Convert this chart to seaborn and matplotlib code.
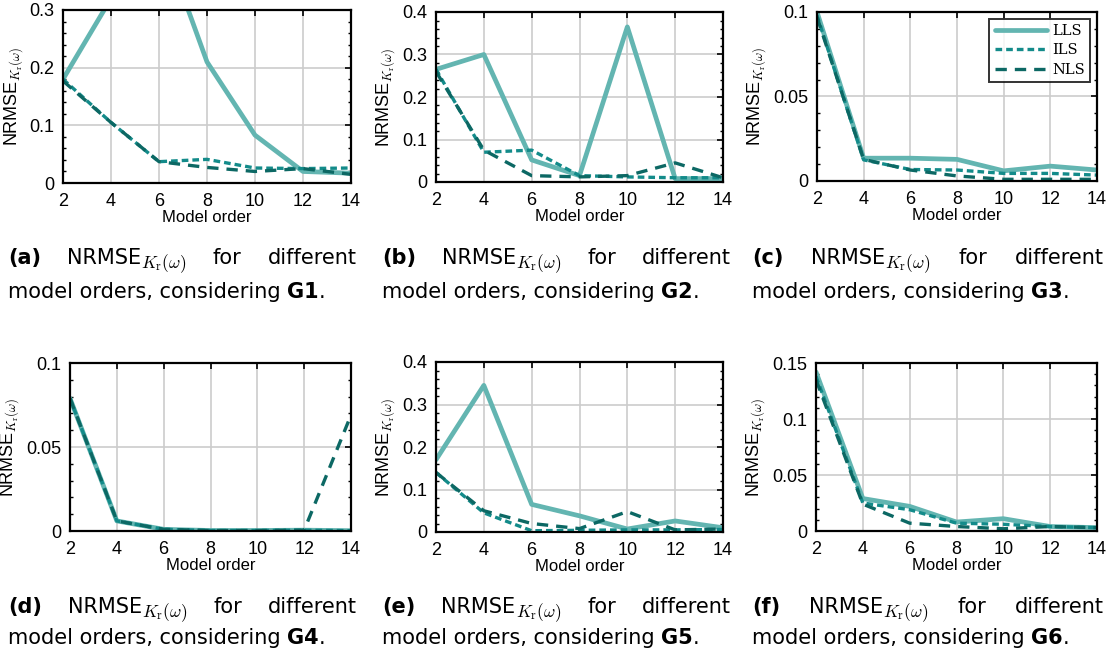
import numpy as np
import pandas as pd
import matplotlib
matplotlib.use("Agg")
import matplotlib.pyplot as plt
from matplotlib.ticker import AutoMinorLocator, MultipleLocator, FuncFormatter
import seaborn as sns

orders = [2, 4, 6, 8, 10, 12, 14]
methods = ["LLS", "ILS", "NLS"]

g1_lls = [0.18, 0.32, 0.44, 0.21, 0.083, 0.020, 0.017]
g1_ils = [0.18, 0.105, 0.037, 0.041, 0.026, 0.025, 0.026]
g1_nls = [0.177, 0.105, 0.037, 0.027, 0.020, 0.025, 0.015]

g2_lls = [0.265, 0.300, 0.052, 0.015, 0.365, 0.008, 0.008]
g2_ils = [0.265, 0.070, 0.075, 0.015, 0.012, 0.010, 0.010]
g2_nls = [0.260, 0.075, 0.015, 0.012, 0.015, 0.045, 0.010]

g3_lls = [0.100, 0.0135, 0.0135, 0.0128, 0.006, 0.0088, 0.0065]
g3_ils = [0.098, 0.0125, 0.0068, 0.0065, 0.0045, 0.0045, 0.0035]
g3_nls = [0.097, 0.0128, 0.0065, 0.003, 0.001, 0.001, 0.001]

g4_lls = [0.079, 0.006, 0.001, 0.0003, 0.0003, 0.0005, 0.0002]
g4_ils = [0.079, 0.006, 0.001, 0.0003, 0.0003, 0.0005, 0.0002]
g4_nls = [0.079, 0.006, 0.001, 0.0003, 0.0003, 0.0005, 0.069]

g5_lls = [0.170, 0.345, 0.065, 0.038, 0.007, 0.026, 0.010]
g5_ils = [0.140, 0.045, 0.003, 0.004, 0.005, 0.005, 0.006]
g5_nls = [0.140, 0.050, 0.020, 0.008, 0.048, 0.005, 0.007]

g6_lls = [0.142, 0.029, 0.022, 0.008, 0.011, 0.004, 0.003]
g6_ils = [0.138, 0.025, 0.019, 0.007, 0.006, 0.004, 0.003]
g6_nls = [0.135, 0.024, 0.007, 0.004, 0.002, 0.004, 0.003]

datasets = ["G1", "G2", "G3", "G4", "G5", "G6"]
series = {
    "G1": (g1_lls, g1_ils, g1_nls),
    "G2": (g2_lls, g2_ils, g2_nls),
    "G3": (g3_lls, g3_ils, g3_nls),
    "G4": (g4_lls, g4_ils, g4_nls),
    "G5": (g5_lls, g5_ils, g5_nls),
    "G6": (g6_lls, g6_ils, g6_nls),
}
ylims = [0.3, 0.4, 0.1, 0.1, 0.4, 0.15]
ysteps = [0.1, 0.1, 0.05, 0.05, 0.1, 0.05]
letters = ["a", "b", "c", "d", "e", "f"]

rows = []
for g in datasets:
    for m, vals in zip(methods, series[g]):
        for o, v in zip(orders, vals):
            rows.append({"dataset": g, "method": m, "order": o, "value": v})
df = pd.DataFrame(rows)

sns.set_theme(style="white")
plt.rcParams["font.family"] = ["Liberation Sans", "DejaVu Sans"]
plt.rcParams["mathtext.fontset"] = "cm"
plt.rcParams["text.color"] = "black"
plt.rcParams["axes.labelcolor"] = "black"

colors = {"LLS": "#63b5b1", "ILS": "#138b8a", "NLS": "#0c6864"}
widths = {"LLS": 3.4, "ILS": 2.4, "NLS": 2.4}
styles = {"LLS": "-", "ILS": (0, (2.0, 1.2)), "NLS": (0, (3.4, 2.4))}

W, H = 1117, 659
fig = plt.figure(figsize=(W / 100, H / 100), dpi=100)
renderer = fig.canvas.get_renderer()

boxes = [
    (63, 351, 10, 183), (436, 723, 12, 182), (817, 1097, 12, 181),
    (70, 351, 363, 531), (436, 723, 362, 532), (816, 1097, 363, 531),
]
cap_cols = [(8, 357), (382, 731), (752, 1104)]
cap_rows = [(258, 292), (607, 638)]

ylab = r"NRMSE$_{K_\mathrm{r}(\omega)}$"


def tw(t):
    return t.get_window_extent(renderer).width


for i, g in enumerate(datasets):
    x0, x1, yt, yb = boxes[i]
    ax = fig.add_axes([x0 / W, 1 - yb / H, (x1 - x0) / W, (yb - yt) / H])
    sub = df[df["dataset"] == g]
    for m in methods:
        d = sub[sub["method"] == m]
        sns.lineplot(data=d, x="order", y="value", ax=ax, color=colors[m],
                     linewidth=widths[m], linestyle=styles[m], label=m,
                     legend=False)
    ax.set_xlim(2, 14)
    ax.set_ylim(0, ylims[i])
    ax.set_xticks(orders)
    ax.yaxis.set_major_locator(MultipleLocator(ysteps[i]))
    ax.yaxis.set_minor_locator(AutoMinorLocator(5))
    ax.yaxis.set_major_formatter(FuncFormatter(
        lambda v, p: "0" if abs(v) < 1e-12 else ("%g" % round(v, 4))))
    ax.grid(True, which="major", color="#cccccc", linewidth=1.2)
    ax.set_axisbelow(True)
    for s in ax.spines.values():
        s.set_color("black")
        s.set_linewidth(1.6)
    ax.tick_params(axis="both", which="major", direction="in", length=4,
                   width=1.2, top=True, right=True, labelsize=13, colors="black")
    ax.tick_params(axis="x", which="major", pad=7)
    ax.tick_params(axis="y", which="major", pad=6)
    ax.tick_params(axis="y", which="minor", direction="in", length=2.5,
                   width=1.0, left=True, right=True, colors="black")
    ax.set_xlabel("Model order", fontsize=12, labelpad=0, color="black")
    ax.set_ylabel(ylab, fontsize=13, labelpad=3, color="black")
    if i == 2:
        leg = ax.legend(loc="upper right", prop={"family": "DejaVu Serif", "size": 10.5},
                        frameon=True, fancybox=False, edgecolor="black",
                        handlelength=3.6, borderpad=0.4, labelspacing=0.35,
                        handletextpad=0.3, borderaxespad=0.45)
        leg.get_frame().set_linewidth(1.4)
        for t in leg.get_texts():
            t.set_color("black")

    # caption (justified first line)
    cx0, cx1 = cap_cols[i % 3]
    ly1, ly2 = cap_rows[i // 3]
    fs = 15
    y1 = 1 - ly1 / H
    y2 = 1 - ly2 / H
    t_lab = fig.text(0, y1, "(%s)" % letters[i], fontsize=fs, fontweight="bold",
                     ha="left", va="center", family="DejaVu Sans", color="black")
    t_nr = fig.text(0, y1, "NRMSE", fontsize=fs, ha="left", va="center",
                    family="DejaVu Sans", color="black")
    t_sub = fig.text(0, y1 - 6 / H, r"$K_\mathrm{r}(\omega)$", fontsize=12.5,
                     ha="left", va="center", color="black")
    t_for = fig.text(0, y1, "for", fontsize=fs, ha="left", va="center",
                     family="DejaVu Sans", color="black")
    t_dif = fig.text(0, y1, "different", fontsize=fs, ha="left", va="center",
                     family="DejaVu Sans", color="black")
    w_lab, w_nr, w_sub, w_for, w_dif = [tw(t) for t in (t_lab, t_nr, t_sub, t_for, t_dif)]
    gap = (cx1 - cx0 - (w_lab + w_nr + w_sub + w_for + w_dif)) / 3
    xp = cx0
    t_lab.set_x(xp / W)
    xp += w_lab + gap
    t_nr.set_x(xp / W)
    t_sub.set_x((xp + w_nr) / W)
    xp += w_nr + w_sub + gap
    t_for.set_x(xp / W)
    xp += w_for + gap
    t_dif.set_x(xp / W)

    t1 = fig.text(cx0 / W, y2, "model orders, considering ", fontsize=fs,
                  ha="left", va="center", family="DejaVu Sans", color="black")
    xa = cx0 + tw(t1)
    t2 = fig.text(xa / W, y2, g, fontsize=fs, fontweight="bold", ha="left",
                  va="center", family="DejaVu Sans", color="black")
    xb = xa + tw(t2)
    fig.text(xb / W, y2, ".", fontsize=fs, ha="left", va="center",
             family="DejaVu Sans", color="black")

fig.savefig("out.png", dpi=100)
